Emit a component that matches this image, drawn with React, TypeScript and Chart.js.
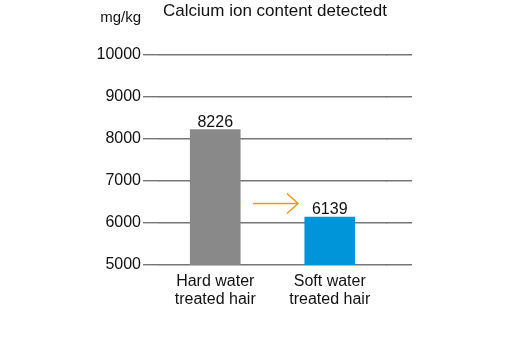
import React, { useEffect, useRef } from "react";
import { Chart, registerables } from "chart.js";

Chart.register(...registerables);

const categories: string[][] = [
  ["Hard water", "treated hair"],
  ["Soft water", "treated hair"],
];
const values: number[] = [8226, 6139];
const barColors: string[] = ["#898989", "#0095d9"];
const yTicks: number[] = [5000, 6000, 7000, 8000, 9000, 10000];
const titleText = "Calcium ion content detectedt";
const unitText = "mg/kg";
const arrowLevel = 6480;

const FONT = "'Liberation Sans', Arial, Helvetica, sans-serif";
const TEXT = "#111111";
const GRID = "#767676";
const GRID_W = 1.4;
const ARROW = "#f0961e";

const alignPx = (p: number, w: number) => Math.round(p - w / 2) + w / 2;

const annotations = {
  id: "annotations",
  afterDatasetsDraw(chart: any) {
    const ctx = chart.ctx as CanvasRenderingContext2D;
    const meta = chart.getDatasetMeta(0);
    const ys = chart.scales.y;
    const area = chart.chartArea;
    ctx.save();
    // extend grid lines to the right of the plot
    ctx.strokeStyle = GRID;
    ctx.lineWidth = GRID_W;
    ctx.beginPath();
    yTicks.forEach((v) => {
      const py = alignPx(ys.getPixelForValue(v), GRID_W);
      ctx.moveTo(area.right - 1, py);
      ctx.lineTo(area.right + 25, py);
    });
    ctx.stroke();
    // value labels
    ctx.fillStyle = TEXT;
    ctx.font = `16px ${FONT}`;
    ctx.textAlign = "center";
    ctx.textBaseline = "alphabetic";
    meta.data.forEach((bar: any, i: number) => {
      ctx.fillText(String(values[i]), bar.x, bar.y - 3);
    });
    // unit label
    ctx.textAlign = "right";
    ctx.font = `15px ${FONT}`;
    ctx.fillText(unitText, ys.right - 15 - 2, area.top - 33);
    // arrow
    const x0 = meta.data[0].x;
    const x1 = meta.data[1].x;
    const mid = (x0 + x1) / 2;
    const ay = Math.round(ys.getPixelForValue(arrowLevel)) + 0.5;
    const start = mid - 19.5;
    const tip = mid + 25.5;
    ctx.strokeStyle = ARROW;
    ctx.lineWidth = 1.5;
    ctx.beginPath();
    ctx.moveTo(start, ay);
    ctx.lineTo(tip, ay);
    ctx.moveTo(tip - 11, ay - 10);
    ctx.lineTo(tip, ay);
    ctx.lineTo(tip - 11, ay + 10);
    ctx.stroke();
    ctx.restore();
  },
};

export default function App() {
  const ref = useRef<HTMLCanvasElement | null>(null);

  useEffect(() => {
    if (!ref.current) return;
    const chart = new Chart(ref.current, {
      type: "bar",
      data: {
        labels: categories as any,
        datasets: [
          {
            data: values,
            backgroundColor: barColors,
            borderWidth: 0,
            barThickness: 50,
          },
        ],
      },
      options: {
        responsive: false,
        animation: false,
        devicePixelRatio: 1,
        layout: { padding: { left: 88, right: 125, top: 0, bottom: 0 } },
        plugins: {
          legend: { display: false },
          tooltip: { enabled: false },
          title: {
            display: true,
            text: titleText,
            align: "end",
            fullSize: false,
            color: TEXT,
            font: { family: FONT, size: 17, weight: "normal", lineHeight: 1.2 },
            padding: { top: 1, bottom: 33.6 },
          },
        },
        scales: {
          x: {
            offset: true,
            grid: { display: false, drawTicks: false },
            border: { display: false },
            ticks: {
              color: TEXT,
              font: { family: FONT, size: 16, lineHeight: 1.1 },
              padding: 8,
              maxRotation: 0,
              autoSkip: false,
            },
            afterFit: (s: any) => {
              s.height = 75;
            },
          },
          y: {
            position: "left",
            min: yTicks[0],
            max: yTicks[yTicks.length - 1],
            afterBuildTicks: (s: any) => {
              s.ticks = yTicks.map((v) => ({ value: v }));
            },
            grid: { color: GRID, lineWidth: GRID_W, tickLength: 15 },
            border: { display: false },
            ticks: {
              color: TEXT,
              font: { family: FONT, size: 16 },
              padding: 2,
              callback: (v: any) => String(v),
            },
            afterFit: (s: any) => {
              s.width = 70;
            },
          },
        },
      } as any,
      plugins: [annotations],
    });
    return () => chart.destroy();
  }, []);

  return (
    <div style={{ position: "fixed", left: 0, top: 0, width: 512, height: 340, background: "#fff" }}>
      <canvas ref={ref} width={512} height={340} />
    </div>
  );
}
